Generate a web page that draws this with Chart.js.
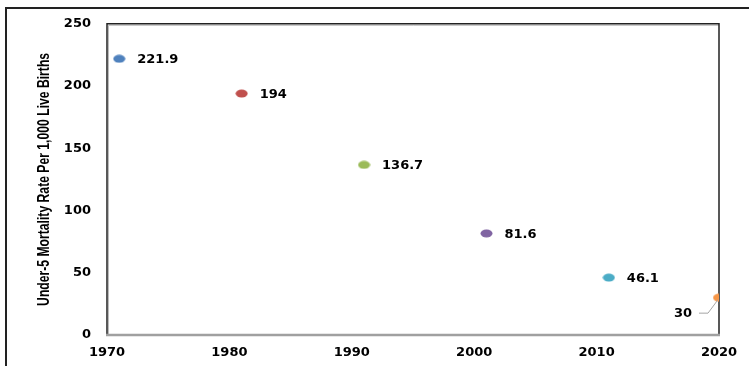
<!DOCTYPE html>
<html><head><meta charset="utf-8">
<script src="https://cdn.jsdelivr.net/npm/chart.js@4"></script>
<style>html,body{margin:0;padding:0;background:#fff}#wrap{width:750px;height:366px}</style>
</head><body><div id="wrap"><canvas id="c" width="750" height="366"></canvas></div>
<script>
const years = [1971, 1981, 1991, 2001, 2011, 2020];
const rates = [221.9, 194, 136.7, 81.6, 46.1, 30];
const pointLabels = ['221.9', '194', '136.7', '81.6', '46.1', '30'];
const pointColors = ['#4F81BD', '#C0504D', '#9BBB59', '#8064A2', '#4BACC6', '#F79646'];
const yTickValues = [0, 50, 100, 150, 200, 250];
const xTickValues = [1970, 1980, 1990, 2000, 2010, 2020];
const yTitle = 'Under-5 Mortality Rate Per 1,000 Live Births';

function ellipseSprite(color) {
  const c = document.createElement('canvas');
  c.width = 13; c.height = 9;
  const g = c.getContext('2d');
  g.fillStyle = color;
  g.beginPath();
  g.ellipse(6.5, 4.5, 6, 4, 0, 0, Math.PI * 2);
  g.fill();
  return c;
}

const framePlugin = {
  id: 'frame',
  beforeDraw(chart) {
    const ctx = chart.ctx;
    ctx.save();
    ctx.strokeStyle = '#222';
    ctx.lineWidth = 2;
    ctx.beginPath();
    ctx.moveTo(6, 366); ctx.lineTo(6, 8); ctx.lineTo(749, 8);
    ctx.stroke();
    ctx.restore();
  },
  afterDraw(chart) {
    // y-axis title in a condensed bold face
    const {ctx, chartArea: a} = chart;
    ctx.save();
    ctx.translate(45, (a.top + a.bottom) / 2);
    ctx.rotate(-Math.PI / 2);
    ctx.font = 'bold 16px "Liberation Sans"';
    const w = ctx.measureText(yTitle).width;
    const target = 253;
    ctx.scale(target / w, 1);
    ctx.fillStyle = '#000';
    ctx.textAlign = 'center';
    ctx.textBaseline = 'middle';
    ctx.fillText(yTitle, 0, 0);
    ctx.restore();
  },
  beforeDatasetsDraw(chart) {
    const {ctx, chartArea: a} = chart;
    ctx.save();
    ctx.strokeStyle = '#bbb';
    ctx.lineWidth = 1;
    ctx.beginPath();
    ctx.moveTo(a.left + 1.5, a.bottom); ctx.lineTo(a.left + 1.5, a.top + 1.5); ctx.lineTo(a.right, a.top + 1.5);
    ctx.stroke();
    ctx.strokeStyle = '#222';
    ctx.lineWidth = 1.5;
    ctx.beginPath();
    ctx.moveTo(a.left, a.bottom); ctx.lineTo(a.left, a.top); ctx.lineTo(a.right, a.top); ctx.lineTo(a.right, a.bottom);
    ctx.stroke();
    ctx.strokeStyle = '#a0a0a0';
    ctx.lineWidth = 2.5;
    ctx.beginPath();
    ctx.moveTo(a.left - 1, a.bottom); ctx.lineTo(a.right + 1, a.bottom);
    ctx.stroke();
    ctx.restore();
  },
  afterDatasetsDraw(chart) {
    const {ctx, chartArea: a} = chart;
    const meta = chart.getDatasetMeta(0);
    ctx.save();
    ctx.font = 'bold 13px "DejaVu Sans"';
    ctx.fillStyle = '#000';
    ctx.textBaseline = 'middle';
    meta.data.forEach((pt, i) => {
      const txt = pointLabels[i];
      const w = ctx.measureText(txt).width;
      if (pt.x + 18 + w > a.right) {
        ctx.textAlign = 'right';
        ctx.fillText(txt, pt.x - 27, pt.y + 16);
        ctx.strokeStyle = '#a6a6a6';
        ctx.lineWidth = 1;
        ctx.beginPath();
        ctx.moveTo(pt.x - 20, pt.y + 15.5);
        ctx.lineTo(pt.x - 11, pt.y + 15.5);
        ctx.lineTo(pt.x - 1, pt.y + 2);
        ctx.stroke();
      } else {
        ctx.textAlign = 'left';
        ctx.fillText(txt, pt.x + 18, pt.y + 1);
      }
    });
    ctx.restore();
  }
};

const tickFont = {family: '"DejaVu Sans"', size: 13, weight: 'bold'};

new Chart(document.getElementById('c'), {
  type: 'scatter',
  data: {
    datasets: [{
      data: years.map((y, i) => ({x: y, y: rates[i]})),
      backgroundColor: pointColors,
      borderColor: pointColors,
      pointStyle: pointColors.map(ellipseSprite),
      pointRadius: 6
    }]
  },
  options: {
    responsive: false,
    animation: false,
    devicePixelRatio: 1,
    layout: {padding: {left: 0, top: 23, right: 31, bottom: 0}},
    plugins: {legend: {display: false}, tooltip: {enabled: false}},
    scales: {
      x: {
        type: 'linear', min: 1970, max: 2020,
        afterBuildTicks: s => { s.ticks = xTickValues.map(v => ({value: v})); },
        afterFit: s => { s.height = 31; },
        grid: {display: false, drawTicks: false}, border: {display: false},
        ticks: {font: tickFont, color: '#000', padding: 10, maxRotation: 0, callback: v => String(v)}
      },
      y: {
        min: 0, max: 250,
        afterBuildTicks: s => { s.ticks = yTickValues.map(v => ({value: v})); },
        afterFit: s => { s.width = 107; },
        grid: {display: false, drawTicks: false}, border: {display: false},
        ticks: {font: tickFont, color: '#000', padding: 16, callback: v => String(v)}
      }
    }
  },
  plugins: [framePlugin]
});
</script></body></html>
